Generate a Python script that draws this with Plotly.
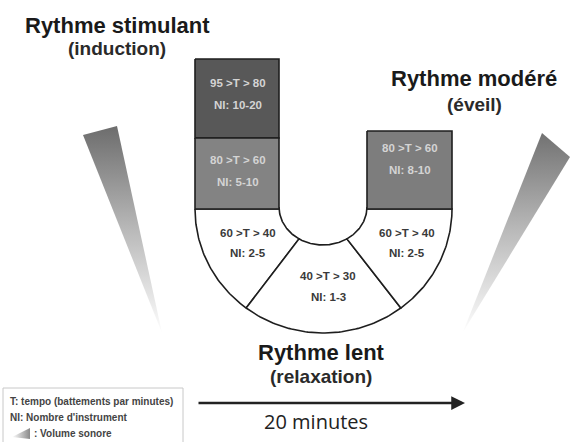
import numpy as np
import plotly.graph_objects as go

# ---- content ----
tempo_labels = ["95 >T > 80", "80 >T > 60", "60 >T > 40", "40 >T > 30", "60 >T > 40", "80 >T > 60"]
ni_labels = ["NI: 10-20", "NI: 5-10", "NI: 2-5", "NI: 1-3", "NI: 2-5", "NI: 8-10"]
zone_fill = ["#585858", "#838383", "#ffffff", "#ffffff", "#ffffff", "#7d7d7d"]
zone_text = ["#d4d4d4", "#d4d4d4", "#3a3a3a", "#3a3a3a", "#3a3a3a", "#d4d4d4"]
phase_titles = ["Rythme stimulant", "Rythme lent", "Rythme modéré"]
phase_subtitles = ["(induction)", "(relaxation)", "(éveil)"]
legend_lines = ["T: tempo (battements par minutes)", "NI: Nombre d'instrument", ": Volume sonore"]
duration_label = "20 minutes"

W, H = 570, 442
fig = go.Figure()

# ---- geometry of the U ----
cxo, cyo, rxo, ryo = 323.5, 209.0, 128.5, 124.0
cxi, cyi, rxi, ryi = 323.0, 207.0, 44.0, 38.0

def arc(cx, cy, rx, ry, a0, a1, n=60):
    t = np.radians(np.linspace(a0, a1, n))
    return list(cx + rx * np.cos(t)), list(cy + ry * np.sin(t))

LINE = "#1e1e1e"

def poly(xs, ys, fill, width=1.6):
    fig.add_trace(go.Scatter(x=xs + [xs[0]], y=ys + [ys[0]], mode="lines", fill="toself",
                             fillcolor=fill, line=dict(color=LINE, width=width),
                             hoverinfo="skip", showlegend=False))

# left sector
ox, oy = arc(cxo, cyo, rxo, ryo, 180, 127)
ix, iy = arc(cxi, cyi, rxi, ryi, 123, 180)
poly(ox + ix + [279], oy + iy + [209], zone_fill[2])
# middle sector
ox, oy = arc(cxo, cyo, rxo, ryo, 127, 53)
ix, iy = arc(cxi, cyi, rxi, ryi, 57, 123)
poly(ox + ix, oy + iy, zone_fill[3])
# right sector
ox, oy = arc(cxo, cyo, rxo, ryo, 53, 0)
ix, iy = arc(cxi, cyi, rxi, ryi, 0, 57)
poly(ox + [367] + ix, oy + [209] + iy, zone_fill[4])

# boxes (x0, y0, x1, y1)
boxes = [(195, 59, 279, 138), (195, 138, 279, 209), (367, 131, 452, 209)]
for (x0, y0, x1, y1), f in zip(boxes, [zone_fill[0], zone_fill[1], zone_fill[5]]):
    poly([x0, x1, x1, x0], [y0, y0, y1, y1], f)

# ---- volume wedges ----
wedges = [([83, 117, 162], [135, 126, 333]), ([542, 570, 463], [133, 157, 332])]
for xs, ys in wedges:
    fig.add_trace(go.Scatter(x=xs + [xs[0]], y=ys + [ys[0]], mode="lines", fill="toself",
                             line=dict(width=0, color="rgba(0,0,0,0)"),
                             fillgradient=dict(type="vertical", start=128, stop=335,
                                               colorscale=[[0, "#6e6e6e"], [0.5, "#bababa"], [1, "#ffffff"]]),
                             hoverinfo="skip", showlegend=False))

# legend icon wedge
fig.add_trace(go.Scatter(x=[12, 30, 30, 12], y=[437, 428, 439, 437], mode="lines", fill="toself",
                         line=dict(width=0, color="rgba(0,0,0,0)"),
                         fillgradient=dict(type="horizontal", start=12, stop=30,
                                           colorscale=[[0, "#ffffff"], [1, "#8a8a8a"]]),
                         hoverinfo="skip", showlegend=False))

ann = []
# zone labels
label_pos = [(238, 83, 105), (238, 160, 182), (248, 233, 253), (328, 276, 297), (407, 233, 253), (410, 148, 170)]
for (x, y1, y2), t, n, c in zip(label_pos, tempo_labels, ni_labels, zone_text):
    for y, s in ((y1, t), (y2, n)):
        ann.append(dict(x=x, y=y, text=s, showarrow=False, xanchor="center", yanchor="middle",
                        font=dict(family="Liberation Sans", size=11.5, color=c, weight="bold")))

# phase titles
title_pos = [(117, 25, 48), (321, 352, 376), (474, 78, 104)]
for (x, yt, ys), t, s in zip(title_pos, phase_titles, phase_subtitles):
    ann.append(dict(x=x, y=yt, text=t, showarrow=False, xanchor="center", yanchor="middle",
                    font=dict(family="Liberation Sans", size=22, color="#1a1a1a", weight="bold")))
    ann.append(dict(x=x, y=ys, text=s, showarrow=False, xanchor="center", yanchor="middle",
                    font=dict(family="Liberation Sans", size=19, color="#2a2a2a", weight="bold")))

# time arrow
ann.append(dict(x=465, y=403, ax=197, ay=403, xref="x", yref="y", axref="x", ayref="y",
                text="", showarrow=True, arrowhead=2, arrowsize=1.1, arrowwidth=2.5, arrowcolor="#222222"))
ann.append(dict(x=316, y=421, text=duration_label, showarrow=False, xanchor="center", yanchor="middle",
                font=dict(family="Open Sans", size=20, color="#222222")))

# legend text
for y, s, x in zip([401, 417, 433], legend_lines, [8, 8, 32]):
    ann.append(dict(x=x, y=y, text=s, showarrow=False, xanchor="left", yanchor="middle",
                    font=dict(family="Liberation Sans", size=10, color="#444444", weight="bold")))

shapes = [dict(type="rect", x0=3, y0=388, x1=183, y1=446, xref="x", yref="y",
               line=dict(color="#c8c8c8", width=1), fillcolor="rgba(0,0,0,0)", layer="below")]

fig.update_layout(width=W, height=H, margin=dict(l=0, r=0, t=0, b=0),
                  paper_bgcolor="white", plot_bgcolor="white",
                  xaxis=dict(range=[0, W], visible=False, fixedrange=True),
                  yaxis=dict(range=[H, 0], visible=False, fixedrange=True),
                  annotations=ann, shapes=shapes, showlegend=False)

fig.write_html("out.html", config={"displayModeBar": False},
               post_script="document.body.style.margin='0';document.body.style.overflow='hidden';")
